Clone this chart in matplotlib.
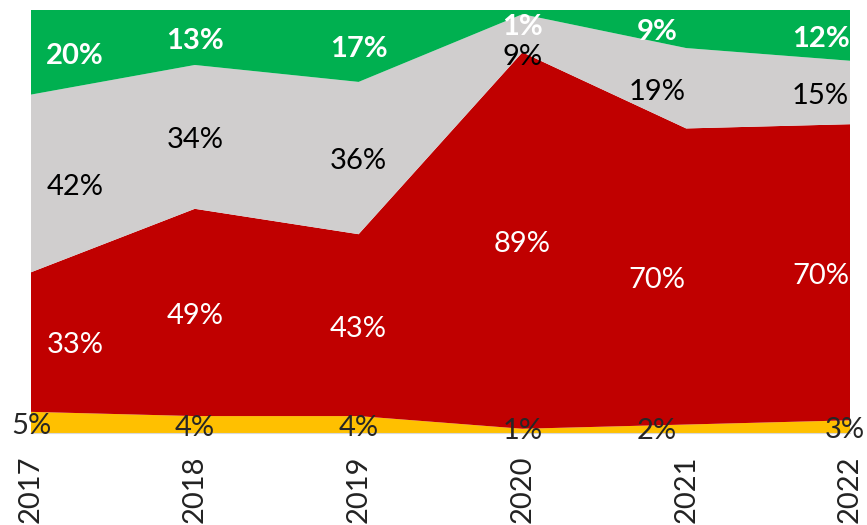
import matplotlib.pyplot as plt
import numpy as np

years = ['2017', '2018', '2019', '2020', '2021', '2022']
yellow = [5, 4, 4, 1, 2, 3]
red = [33, 49, 43, 89, 70, 70]
grey = [42, 34, 36, 9, 19, 15]
green = [20, 13, 17, 1, 9, 12]

plt.rcParams['font.family'] = ['Lato', 'DejaVu Sans']

fig = plt.figure(figsize=(8.67, 5.25), dpi=100, facecolor='white')
ax = fig.add_axes([31 / 867, 92 / 525, 819 / 867, 423 / 525])

x = np.arange(len(years))
colors = ['#FFC000', '#C00000', '#D0CECE', '#00B050']
series = [yellow, red, grey, green]
ax.stackplot(x, *series, colors=colors, linewidth=0)

# label placement (tweaks to mimic the spreadsheet's label layout)
dx = [0.27, 0, 0, 0, -0.18, -0.18]
dx_yellow = [0, 0, 0, 0, -0.18, -0.03]
bottom = np.zeros(len(years))
styles = [
    dict(color='#262626', weight='normal'),
    dict(color='white', weight='normal'),
    dict(color='black', weight='normal'),
    dict(color='white', weight='bold'),
]
for k, (vals, st) in enumerate(zip(series, styles)):
    vals = np.array(vals)
    mid = bottom + vals / 2 - 0.8
    for i, v in enumerate(vals):
        xi = x[i] + (dx_yellow[i] if k == 0 else dx[i])
        yi = mid[i]
        if k == 3 and i == 3:
            yi = 96
        if k == 2 and i == 3:
            yi = 89
        if k == 0:
            yi = max(yi, 0.5)
        ax.text(xi, yi, f'{v}%', ha='center', va='center', fontsize=21, **st)
    bottom = bottom + vals

ax.set_xlim(0, 5)
ax.set_ylim(0, 100)
ax.set_xticks(x)
ax.set_xticklabels(years, rotation=90, fontsize=21, color='#222222')
ax.tick_params(axis='x', length=0, pad=16)
ax.set_yticks([])
for s in ['top', 'right', 'left']:
    ax.spines[s].set_visible(False)
ax.spines['bottom'].set_color('#D9D9D9')

fig.savefig('out.png', dpi=100)
